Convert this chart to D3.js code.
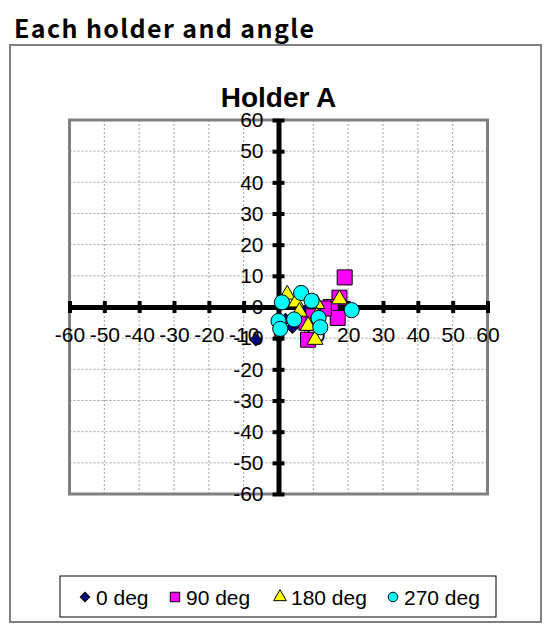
<!DOCTYPE html>
<html>
<head>
<meta charset="utf-8">
<script src="https://cdn.jsdelivr.net/npm/d3@7"></script>
<style>
  body { margin: 0; background: #fff; }
  text { font-family: "Liberation Sans", Arial, sans-serif; }
</style>
</head>
<body>
<svg id="chart" width="545" height="627"></svg>
<script>
// data
const seriesNames = ["0 deg", "90 deg", "180 deg", "270 deg"];
const deg0 = [[-6.5,-10.5],[0.5,-5],[4,-6.5],[6,-2],[8,-1],[11,-1],[5,-3.5],[2,-4]];
const deg90 = [[19,9.5],[17.5,3],[15,0],[17,-3.5],[8.5,-10.5],[8,-5],[13,-0.5],[10,-3]];
const deg180 = [[2.5,4],[5,1.5],[11,1],[17.5,2.5],[10.5,-10.5],[6,-1.5],[11,-3],[8.5,-6]];
const deg270 = [[1,1.5],[6.5,4.5],[9.5,2],[0,-4.5],[4.5,-4],[11.5,-3.5],[12,-6.5],[21,-1],[0.5,-7]];
const ticks = [-60,-50,-40,-30,-20,-10,0,10,20,30,40,50,60];

const colors = ["#000080", "#ff00ff", "#ffff00", "#00ffff"];
const shapes = [d3.symbolSquare, d3.symbolSquare, d3.symbolTriangle, d3.symbolCircle];
const sizes = [72, 225, 110, 180];
const rotations = [45, 0, 0, 0];

const svg = d3.select("#chart");

// chart title (outside the frame)
svg.append("text")
  .attr("x", 14).attr("y", 38)
  .attr("textLength", 300)
  .style("font-family", "'Noto Sans CJK JP', sans-serif")
  .style("font-size", "25px")
  .style("font-weight", "bold")
  .text("Each holder and angle");

// outer frame
svg.append("rect")
  .attr("x", 10).attr("y", 45).attr("width", 531).attr("height", 577)
  .attr("fill", "none").attr("stroke", "#808080").attr("stroke-width", 2);

// plot area
const pLeft = 69.5, pRight = 487.5, pTop = 120, pBottom = 494;
const x = d3.scaleLinear().domain([-60, 60]).range([pLeft, pRight]);
const y = d3.scaleLinear().domain([-60, 60]).range([pBottom, pTop]);

svg.append("text")
  .attr("x", (pLeft + pRight) / 2).attr("y", 107)
  .attr("text-anchor", "middle")
  .style("font-size", "28px").style("font-weight", "bold")
  .text("Holder A");

// grid
svg.append("g").selectAll("line").data(ticks).join("line")
  .attr("x1", d => x(d)).attr("x2", d => x(d))
  .attr("y1", pTop).attr("y2", pBottom)
  .attr("stroke", "#a0a0a0").attr("stroke-dasharray", "2,2");
svg.append("g").selectAll("line").data(ticks).join("line")
  .attr("y1", d => y(d)).attr("y2", d => y(d))
  .attr("x1", pLeft).attr("x2", pRight)
  .attr("stroke", "#a0a0a0").attr("stroke-dasharray", "2,2");

svg.append("rect")
  .attr("x", pLeft).attr("y", pTop).attr("width", pRight - pLeft).attr("height", pBottom - pTop)
  .attr("fill", "none").attr("stroke", "#808080").attr("stroke-width", 3);

// axes through the origin
const fmt = d => String(d);
const xAxis = svg.append("g")
  .attr("transform", `translate(0,${y(0)})`)
  .call(d3.axisBottom(x).tickValues(ticks).tickFormat(fmt).tickSize(6).tickSizeOuter(0));
xAxis.select(".domain").attr("stroke", "#000").attr("stroke-width", 5);
xAxis.selectAll(".tick line").attr("y1", -6).attr("y2", 6).attr("stroke", "#000").attr("stroke-width", 4);
xAxis.selectAll(".tick text").attr("y", 20).attr("fill", "#000")
  .style("font-size", "21px").style("font-family", "'Liberation Sans', Arial, sans-serif");

const yAxis = svg.append("g")
  .attr("transform", `translate(${x(0)},0)`)
  .call(d3.axisLeft(y).tickValues(ticks).tickFormat(fmt).tickSize(6).tickSizeOuter(0));
yAxis.select(".domain").attr("stroke", "#000").attr("stroke-width", 5);
yAxis.selectAll(".tick line").attr("x1", -6).attr("x2", 6).attr("stroke", "#000").attr("stroke-width", 4);
yAxis.selectAll(".tick text").attr("x", -15).attr("fill", "#000")
  .style("font-size", "21px").style("font-family", "'Liberation Sans', Arial, sans-serif");

// points
const allSeries = [deg0, deg90, deg180, deg270];
allSeries.forEach((pts, i) => {
  svg.append("g").selectAll("path").data(pts).join("path")
    .attr("d", d3.symbol(shapes[i], sizes[i]))
    .attr("transform", d => `translate(${x(d[0])},${y(d[1])}) rotate(${rotations[i]})`)
    .attr("fill", colors[i]).attr("stroke", "#000").attr("stroke-width", 1);
});

// legend
svg.append("rect")
  .attr("x", 60).attr("y", 576).attr("width", 436).attr("height", 41)
  .attr("fill", "#fff").attr("stroke", "#000").attr("stroke-width", 1);
const legendX = [85, 175, 280, 393];
const legendSizes = [45, 90, 70, 72];
const lg = svg.append("g").selectAll("g").data(seriesNames).join("g")
  .attr("transform", (d, i) => `translate(${legendX[i]},597)`);
lg.append("path")
  .attr("d", (d, i) => d3.symbol(shapes[i], legendSizes[i])())
  .attr("transform", (d, i) => `rotate(${rotations[i]})`)
  .attr("fill", (d, i) => colors[i]).attr("stroke", "#000").attr("stroke-width", 1);
lg.append("text")
  .attr("x", 11).attr("y", 8)
  .style("font-size", "21px")
  .text(d => d);
</script>
</body>
</html>
